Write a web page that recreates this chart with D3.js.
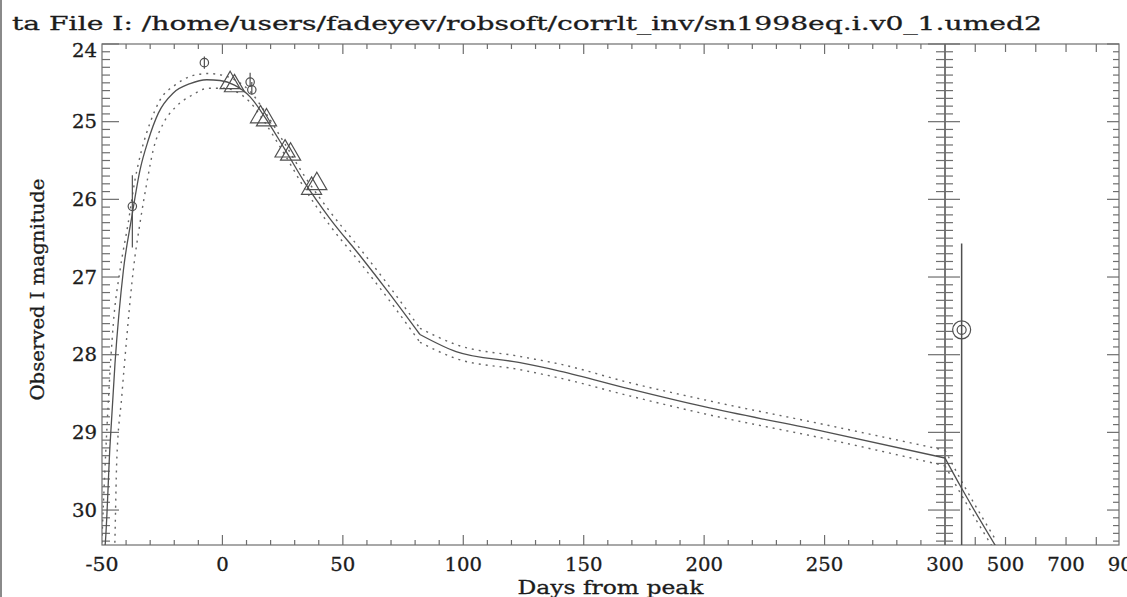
<!DOCTYPE html>
<html>
<head>
<meta charset="utf-8">
<script src="https://cdn.jsdelivr.net/npm/d3@7"></script>
<style>
  html, body { margin: 0; padding: 0; background: #fff; }
  svg { display: block; }
  text { font-family: "DejaVu Serif", serif; fill: #1c1c1c; stroke: #1c1c1c; stroke-width: 0.3px; }
</style>
</head>
<body>
<svg id="chart" width="1127" height="597"></svg>
<script>
// ---- text ----
const titleText = "ta File I: /home/users/fadeyev/robsoft/corrlt_inv/sn1998eq.i.v0_1.umed2";
const xTitle = "Days from peak";
const yTitle = "Observed I magnitude";

// ---- axis ticks ----
const xTickLabelsEarly = [-50, 0, 50, 100, 150, 200, 250];
const xTickLabelsLate = [300, 500, 700, 900];
const xTicksLate = [400, 500, 600, 700, 800];
const yTickLabels = [24, 25, 26, 27, 28, 29, 30];

// days where the model changes slope abruptly
const kinkDays = [82, 300];

// ---- model light curve (days from peak, I mag) ----
const modelDays = [-49.5, -48.7, -46.7, -44.6, -41.1, -37.6, -34.2, -30.8, -26.6, -20.4, -13.4, -6.5, -1.0, 5.0, 11.5, 17.6, 26.0, 34.3, 44.7, 57.0, 70.0, 82.0, 97.0, 123.0, 140.0, 169.0, 200.0, 250.0, 300.0, 355.0, 470.0];
const modelMag  = [30.60, 30.45, 29.18, 28.11, 26.91, 26.22, 25.62, 25.24, 24.89, 24.63, 24.51, 24.46, 24.47, 24.53, 24.68, 24.94, 25.36, 25.79, 26.25, 26.72, 27.24, 27.74, 27.96, 28.10, 28.21, 28.44, 28.67, 28.99, 29.33, 29.72, 30.48];

// bright-side envelope
const upperDays = [-50.3, -49.4, -47.4, -45.3, -42.5, -39.1, -36.3, -33.5, -30.1, -25.9, -19.7, -12.7, -5.9, -0.3, 5.0, 11.5, 17.6, 26.0, 34.3, 44.7, 57.0, 70.0, 82.0, 97.0, 123.0, 140.0, 169.0, 200.0, 250.0, 300.0, 355.0, 470.0];
const upperMag  = [30.60, 29.91, 28.62, 27.60, 26.91, 26.30, 25.75, 25.36, 25.02, 24.72, 24.53, 24.41, 24.38, 24.40, 24.46, 24.61, 24.87, 25.29, 25.71, 26.16, 26.63, 27.15, 27.66, 27.87, 28.02, 28.12, 28.36, 28.58, 28.90, 29.23, 29.63, 30.40];

// faint-side envelope
const lowerDays = [-44.8, -44.6, -43.9, -41.8, -39.7, -37.6, -37.0, -34.2, -31.4, -28.7, -24.5, -19.7, -12.7, -5.9, 1.1, 6.0, 11.5, 17.6, 26.0, 34.3, 44.7, 57.0, 70.0, 82.0, 97.0, 123.0, 140.0, 169.0, 200.0, 250.0, 300.0, 355.0, 470.0];
const lowerMag  = [30.60, 30.34, 29.39, 28.54, 27.77, 27.08, 26.91, 26.30, 25.79, 25.36, 25.02, 24.82, 24.66, 24.57, 24.57, 24.62, 24.75, 25.01, 25.43, 25.87, 26.34, 26.81, 27.33, 27.84, 28.05, 28.19, 28.30, 28.53, 28.76, 29.08, 29.43, 29.81, 30.56];

// ---- photometry: circles with error bars ----
const circDays  = [-37.4, -7.5, 11.5, 12.2];
const circMag   = [26.09, 24.24, 24.49, 24.59];
const circErrHi = [25.69, 24.16, 24.37, 24.49];
const circErrLo = [26.62, 24.32, 24.55, 24.65];

// late-time point (double circle)
const lateDays = [355];
const lateMag = [27.68];
const lateErrHi = [26.57];
const lateErrLo = [31.5];

// ---- photometry: triangles (two overlapping sets) ----
const triDaysA = [3.2, 15.8, 26.0, 39.2];
const triMagA  = [24.50, 24.94, 25.38, 25.80];
const triDaysB = [5.0, 18.3, 28.3, 37.0];
const triMagB  = [24.54, 24.98, 25.42, 25.86];

// ---- layout ----
const svg = d3.select("#chart");
const plotL = 102, plotR = 1119, plotT = 44, plotB = 545, brk = 945;
const axisColor = "#6e6e6e";
const ink = "#505050";

// broken x scale: linear days to 300, compressed beyond
const x = d3.scaleLinear().domain([-50, 300, 875]).range([plotL, brk, plotR]);
const y = d3.scaleLinear().domain([24, 30.45]).range([plotT, plotB]);

// page edge
svg.append("line").attr("x1", 1).attr("x2", 1).attr("y1", 0).attr("y2", 597)
  .attr("stroke", "#8a8a8a").attr("stroke-width", 2);

svg.append("defs").append("clipPath").attr("id", "plotclip")
  .append("rect").attr("x", plotL).attr("y", plotT).attr("width", plotR - plotL).attr("height", plotB - plotT);

const axes = svg.append("g").attr("stroke", axisColor).attr("stroke-width", 1.2).attr("fill", "none");

// frame and break line
axes.append("rect").attr("x", plotL).attr("y", plotT).attr("width", plotR - plotL).attr("height", plotB - plotT);
axes.append("line").attr("x1", brk).attr("x2", brk).attr("y1", plotT).attr("y2", plotB)
  .attr("stroke", "#555").attr("stroke-width", 1.6);

// x ticks, early panel: minor every 10 days, major every 50
d3.range(-40, 300, 10).forEach(d => {
  const major = d % 50 === 0;
  const len = major ? 10 : 5;
  const px = x(d);
  axes.append("line").attr("x1", px).attr("x2", px).attr("y1", plotB).attr("y2", plotB - len);
  axes.append("line").attr("x1", px).attr("x2", px).attr("y1", plotT).attr("y2", plotT + len);
});
// x ticks, late panel
xTicksLate.forEach(d => {
  const px = x(d);
  axes.append("line").attr("x1", px).attr("x2", px).attr("y1", plotB).attr("y2", plotB - 8);
  axes.append("line").attr("x1", px).attr("x2", px).attr("y1", plotT).attr("y2", plotT + 8);
});

// y ticks: minor every 0.1 mag, major every 1
d3.range(0, 65).forEach(i => {
  const v = 24 + i / 10;
  if (v > 30.45) return;
  const major = i % 10 === 0;
  const py = y(v);
  axes.append("line").attr("x1", plotL).attr("x2", plotL + (major ? 17 : 8)).attr("y1", py).attr("y2", py);
  axes.append("line").attr("x1", brk - (major ? 17 : 9)).attr("x2", brk + (major ? 15 : 8)).attr("y1", py).attr("y2", py);
  axes.append("line").attr("x1", plotR).attr("x2", plotR - (major ? 12 : 6)).attr("y1", py).attr("y2", py);
});

// ---- curves ----
const plot = svg.append("g").attr("clip-path", "url(#plotclip)");
const smooth = d3.line().x(d => x(d[0])).y(d => y(d[1])).curve(d3.curveMonotoneX);

const zip = (a, b) => a.map((v, i) => [v, b[i]]);

// split a series at the kink days so each piece is smoothed on its own
function pieces(pts) {
  const edges = [-Infinity, ...kinkDays, Infinity];
  const out = [];
  for (let k = 0; k < edges.length - 1; k++) {
    const seg = pts.filter(p => p[0] >= edges[k] && p[0] <= edges[k + 1]);
    if (seg.length > 1) out.push(seg);
  }
  return out;
}

function drawSeries(days, mags, attrs) {
  pieces(zip(days, mags)).forEach(seg => {
    const p = plot.append("path").datum(seg).attr("d", smooth).attr("fill", "none");
    Object.entries(attrs).forEach(([a, v]) => p.attr(a, v));
  });
}

const dotted = { "stroke": "#666", "stroke-width": 1.4, "stroke-dasharray": "2,5" };
drawSeries(upperDays, upperMag, dotted);
drawSeries(lowerDays, lowerMag, dotted);
drawSeries(modelDays, modelMag, { "stroke": ink, "stroke-width": 1.3 });

// ---- markers ----
const marks = plot.append("g").attr("fill", "none").attr("stroke", ink).attr("stroke-width", 1.2);

circDays.forEach((d, i) => {
  marks.append("line").attr("x1", x(d)).attr("x2", x(d)).attr("y1", y(circErrHi[i])).attr("y2", y(circErrLo[i]));
  marks.append("circle").attr("cx", x(d)).attr("cy", y(circMag[i])).attr("r", 4.2);
});

lateDays.forEach((d, i) => {
  marks.append("line").attr("x1", x(d)).attr("x2", x(d)).attr("y1", y(lateErrHi[i])).attr("y2", y(lateErrLo[i]))
    .attr("stroke-width", 1.5);
  marks.append("circle").attr("cx", x(d)).attr("cy", y(lateMag[i])).attr("r", 9);
  marks.append("circle").attr("cx", x(d)).attr("cy", y(lateMag[i])).attr("r", 4.5);
});

const tri = d3.symbol().type(d3.symbolTriangle).size(175);
[[triDaysA, triMagA], [triDaysB, triMagB]].forEach(([ds, ms]) => {
  ds.forEach((d, i) => {
    marks.append("path").attr("d", tri)
      .attr("transform", `translate(${x(d)},${y(ms[i])})`);
  });
});

// ---- labels ----
const lab = svg.append("g").attr("font-size", 18);
const labWidth = s => String(s).split("").reduce((w, c) => w + (c === "-" ? 8 : 12.5), 0);

yTickLabels.forEach(v => {
  lab.append("text").attr("x", 97).attr("y", Math.max(y(v), plotT + 6.5))
    .attr("text-anchor", "end").attr("dominant-baseline", "central")
    .attr("textLength", labWidth(v)).attr("lengthAdjust", "spacingAndGlyphs").text(v);
});
xTickLabelsEarly.concat(xTickLabelsLate).forEach(v => {
  lab.append("text").attr("x", x(v)).attr("y", 571)
    .attr("text-anchor", "middle")
    .attr("textLength", labWidth(v)).attr("lengthAdjust", "spacingAndGlyphs").text(v);
});

svg.append("text").attr("x", (plotL + plotR) / 2).attr("y", 594)
  .attr("text-anchor", "middle").attr("font-size", 18)
  .attr("textLength", 186).attr("lengthAdjust", "spacingAndGlyphs").text(xTitle);

svg.append("text").attr("transform", `translate(44,${(plotT + plotB) / 2 - 5}) rotate(-90)`)
  .attr("text-anchor", "middle").attr("font-size", 18)
  .attr("textLength", 222).attr("lengthAdjust", "spacingAndGlyphs").text(yTitle);

svg.append("text").attr("x", 12).attr("y", 30).attr("font-size", 19)
  .attr("textLength", 1030).attr("lengthAdjust", "spacingAndGlyphs").text(titleText);
</script>
</body>
</html>
